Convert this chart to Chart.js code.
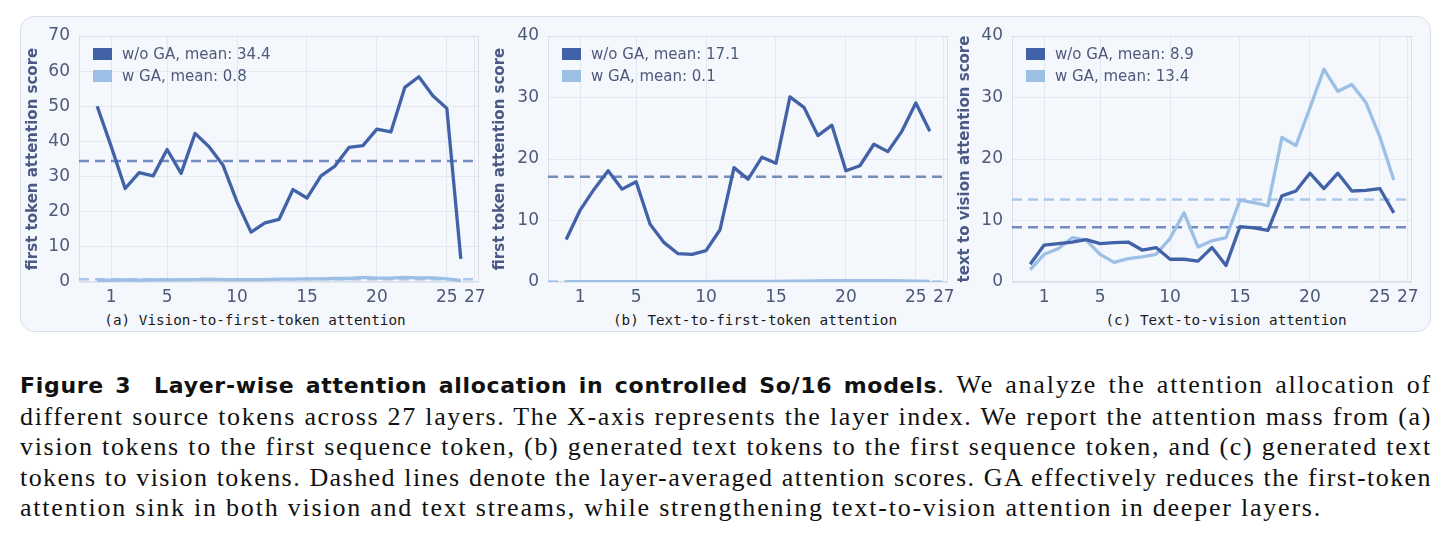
<!DOCTYPE html>
<html>
<head>
<meta charset="utf-8">
<script src="https://cdn.jsdelivr.net/npm/chart.js@4.4.1/dist/chart.umd.min.js"></script>
<style>
  html, body { margin:0; padding:0; background:#ffffff; width:1449px; height:545px; overflow:hidden; }
  #panel { position:absolute; left:20px; top:16px; width:1409px; height:314px; background:#f4f7fc; border:1px solid #d9dee7; border-radius:14px; }
  canvas { position:absolute; }
  .sub { position:absolute; width:420px; text-align:center; font-family:'DejaVu Sans Mono', monospace; font-size:14.3px; line-height:18px; color:#1b1b1b; white-space:nowrap; }
  #caption { position:absolute; left:20px; top:370px; width:1412px; font-family:'Liberation Serif', serif; font-size:26px; line-height:30.5px; color:#111; }
  #caption .jl { text-align:justify; text-align-last:justify; }
  #caption .last { text-align:left; }
  #caption b { font-family:'DejaVu Sans', sans-serif; font-weight:bold; font-size:22px; letter-spacing:0px; }
</style>
</head>
<body>
<div id="panel"></div>
<canvas id="ca" width="473" height="290" style="left:20px; top:16px;"></canvas>
<canvas id="cb" width="475" height="290" style="left:487px; top:16px;"></canvas>
<canvas id="cc" width="476" height="290" style="left:952px; top:16px;"></canvas>
<div class="sub" style="left:45px; top:311px;">(a) Vision-to-first-token attention</div>
<div class="sub" style="left:545px; top:311px;">(b) Text-to-first-token attention</div>
<div class="sub" style="left:1016px; top:311px;">(c) Text-to-vision attention</div>
<div id="caption">
  <div class="jl" id="firstLine"><b id="boldTitle">Figure 3&nbsp; Layer-wise attention allocation in controlled So/16 models</b>. We analyze the attention allocation of</div>
  <div class="jl">different source tokens across 27 layers. The X-axis represents the layer index. We report the attention mass from (a)</div>
  <div class="jl">vision tokens to the first sequence token, (b) generated text tokens to the first sequence token, and (c) generated text</div>
  <div class="jl">tokens to vision tokens. Dashed lines denote the layer-averaged attention scores. GA effectively reduces the first-token</div>
  <div class="last" id="lastLine">attention sink in both vision and text streams, while strengthening text-to-vision attention in deeper layers.</div>
</div>
<script>
// ---------------- data ----------------
const layers = [0,1,2,3,4,5,6,7,8,9,10,11,12,13,14,15,16,17,18,19,20,21,22,23,24,25,26];
const xTickValues = [1,5,10,15,20,25,27];
const seriesNames = ["w/o GA", "w GA"];

const visionFirstWithout = [50.0,38.6,26.6,31.1,30.2,37.7,30.9,42.3,38.5,33.2,22.8,14.2,16.8,17.8,26.3,23.9,30.2,33.0,38.3,38.8,43.5,42.7,55.4,58.4,53.0,49.4,6.6];
const visionFirstWith    = [0.5,0.5,0.6,0.5,0.6,0.6,0.6,0.7,0.8,0.7,0.7,0.7,0.7,0.8,0.8,0.9,0.9,1.0,1.0,1.3,1.1,1.1,1.3,1.2,1.2,0.9,0.4];
const visionFirstMeans   = [34.4, 0.8];

const textFirstWithout = [6.9,11.7,15.1,18.1,15.1,16.3,9.4,6.4,4.6,4.5,5.1,8.5,18.6,16.7,20.3,19.3,30.1,28.4,23.8,25.5,18.1,18.9,22.4,21.2,24.5,29.1,24.5];
const textFirstWith    = [0.05,0.05,0.05,0.05,0.05,0.05,0.05,0.05,0.05,0.05,0.05,0.08,0.08,0.1,0.1,0.1,0.12,0.15,0.18,0.2,0.2,0.22,0.22,0.2,0.18,0.15,0.1];
const textFirstMeans   = [17.1, 0.1];

const textVisionWithout = [2.9,6.0,6.25,6.5,6.9,6.25,6.4,6.5,5.2,5.6,3.7,3.7,3.4,5.6,2.7,9.0,8.8,8.4,14.0,14.8,17.7,15.2,17.7,14.8,14.9,15.2,11.25];
const textVisionWith    = [2.0,4.5,5.4,7.2,6.8,4.5,3.2,3.8,4.1,4.5,7.1,11.25,5.7,6.7,7.2,13.3,12.9,12.4,23.5,22.2,28.3,34.6,31.0,32.1,29.2,23.6,16.6];
const textVisionMeans   = [8.9, 13.4];

const xLimits = [-1.3, 27.3];
const yTitles = ["first token attention score", "first token attention score", "text to vision attention score"];
const yMaxes = [70, 40, 40];

// ---------------- styles ----------------
const DARK = '#4262a8', LIGHT = '#9cbfe6';
const DARK_DASH = 'rgba(66,98,168,0.72)', LIGHT_DASH = 'rgba(156,191,230,0.85)';
const TICK_COLOR = '#4e5a7a', TITLE_COLOR = '#4a5a84', GRID = '#e3e7ee', FRAME = '#d9dee7';

Chart.defaults.font.family = "'DejaVu Sans', sans-serif";

const framePlugin = {
  id: 'frame',
  beforeDatasetsDraw(chart) {
    const a = chart.chartArea, ctx = chart.ctx;
    ctx.save();
    ctx.strokeStyle = FRAME; ctx.lineWidth = 1;
    ctx.strokeRect(a.left + 0.5, a.top + 0.5, a.right - a.left - 1, a.bottom - a.top - 1);
    ctx.restore();
  }
};

const insideLegend = {
  id: 'insideLegend',
  afterDatasetsDraw(chart) {
    const a = chart.chartArea, ctx = chart.ctx;
    ctx.save();
    ctx.font = "15px 'DejaVu Sans', sans-serif";
    ctx.textBaseline = 'middle';
    ctx.textAlign = 'left';
    chart.data.datasets.filter(d => !d.isMean).forEach((d, i) => {
      const cy = a.top + 18 + i * 22;
      ctx.fillStyle = d.borderColor;
      ctx.fillRect(a.left + 14, cy - 6, 19, 12);
      ctx.fillStyle = TICK_COLOR;
      ctx.fillText(d.label, a.left + 43, cy + 1);
    });
    ctx.restore();
  }
};

function makeChart(id, without, withGA, means, yTitle, yMax, axisWidth, padRight) {
  const pts = arr => layers.map((x, i) => ({x: x, y: arr[i]}));
  const meanPts = m => [{x: xLimits[0], y: m}, {x: xLimits[1], y: m}];
  const lineBase = {borderWidth: 3.3, pointRadius: 0, tension: 0, fill: false, borderJoinStyle: 'round'};
  return new Chart(document.getElementById(id), {
    type: 'line',
    data: {
      datasets: [
        Object.assign({label: seriesNames[0] + ', mean: ' + means[0].toFixed(1), data: pts(without), borderColor: DARK, backgroundColor: DARK, order: 1}, lineBase),
        Object.assign({label: seriesNames[1] + ', mean: ' + means[1].toFixed(1), data: pts(withGA), borderColor: LIGHT, backgroundColor: LIGHT, order: 2}, lineBase),
        {label: 'mean0', isMean: true, data: meanPts(means[0]), borderColor: DARK_DASH, borderWidth: 2.5, borderDash: [10, 6], pointRadius: 0, order: 3},
        {label: 'mean1', isMean: true, data: meanPts(means[1]), borderColor: LIGHT_DASH, borderWidth: 2.5, borderDash: [10, 6], pointRadius: 0, order: 4}
      ]
    },
    options: {
      responsive: false,
      animation: false,
      devicePixelRatio: 1,
      layout: {padding: {top: 20, right: padRight, bottom: 0, left: 0}},
      plugins: {legend: {display: false}, tooltip: {enabled: false}},
      scales: {
        x: {
          type: 'linear', min: xLimits[0], max: xLimits[1],
          afterBuildTicks: s => { s.ticks = xTickValues.map(v => ({value: v})); },
          ticks: {font: {size: 17}, color: TICK_COLOR, padding: 5, maxRotation: 0, autoSkip: false, callback: v => String(v)},
          grid: {color: GRID, drawTicks: false},
          border: {display: false},
          afterFit: s => { s.height = 24; }
        },
        y: {
          min: 0, max: yMax,
          ticks: {stepSize: 10, font: {size: 17}, color: TICK_COLOR, padding: 9},
          grid: {color: GRID, drawTicks: false},
          border: {display: false},
          title: {display: true, text: yTitle, color: TITLE_COLOR, font: {size: 15, weight: 'bold'}, padding: {top: 4, bottom: 0}},
          afterFit: s => { s.width = axisWidth; }
        }
      }
    },
    plugins: [framePlugin, insideLegend]
  });
}

makeChart('ca', visionFirstWithout, visionFirstWith, visionFirstMeans, yTitles[0], yMaxes[0], 59, 14);
makeChart('cb', textFirstWithout, textFirstWith, textFirstMeans, yTitles[1], yMaxes[1], 61, 14);
makeChart('cc', textVisionWithout, textVisionWith, textVisionMeans, yTitles[2], yMaxes[2], 60, 16);

// ---------------- caption typesetting (fit letter spacing like the LaTeX original) ----------------
function setNatural(el, on) {
  const s = el.style;
  s.textAlign = on ? 'left' : ''; s.textAlignLast = on ? 'left' : ''; s.whiteSpace = on ? 'nowrap' : '';
}
function naturalWidth(el) {
  setNatural(el, true);
  const r = document.createRange(); r.selectNodeContents(el);
  const w = r.getBoundingClientRect().width;
  setNatural(el, false);
  return w;
}
function fitCaption() {
  const cap = document.getElementById('caption');
  const first = document.getElementById('firstLine');
  const bold = document.getElementById('boldTitle');
  const last = document.getElementById('lastLine');
  const lw = naturalWidth(last);
  let ls = (1302 - lw) / last.textContent.length;
  ls = Math.max(0, Math.min(2, ls));
  cap.querySelectorAll('div').forEach(d => { d.style.letterSpacing = ls + 'px'; });
  setNatural(first, true);
  const bw = bold.getBoundingClientRect().width;
  setNatural(first, false);
  const bn = bold.textContent.length;
  bold.style.letterSpacing = Math.max(-0.5, Math.min(2.5, (890 - bw) / bn)) + 'px';
  cap.querySelectorAll('.jl').forEach(d => {
    const w = naturalWidth(d);
    if (w > 1406) {
      const n = d.textContent.trim().length;
      d.style.letterSpacing = Math.max(0, ls - (w - 1406) / n) + 'px';
    }
  });
}
if (document.fonts && document.fonts.ready) { document.fonts.ready.then(fitCaption); } else { fitCaption(); }
</script>
</body>
</html>
